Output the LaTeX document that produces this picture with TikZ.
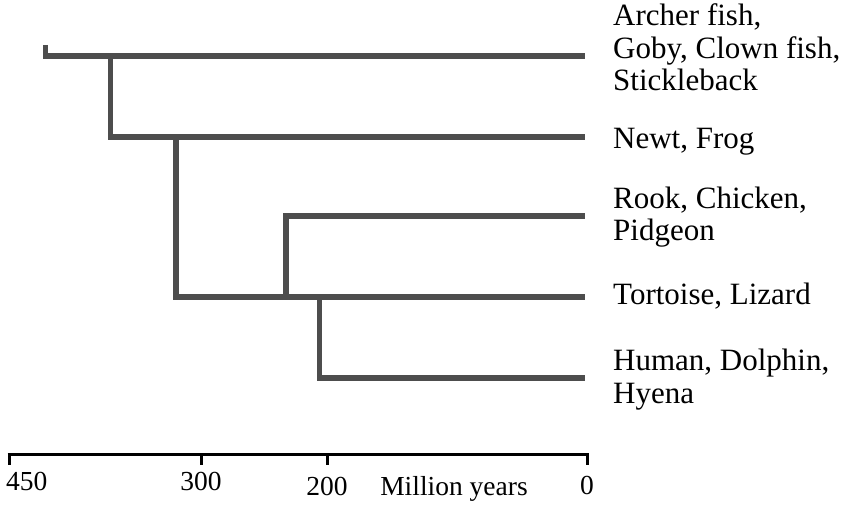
\documentclass[tikz,border=0pt]{standalone}
\usepackage{fontspec}
\setmainfont{Liberation Serif}
\definecolor{treegray}{HTML}{4D4D4D}
\begin{document}
\begin{tikzpicture}[x=1bp,y=-1bp,
  branch/.style={draw=treegray,line width=5.5bp,line cap=butt,line join=miter},
  axisline/.style={draw=black,line width=3bp,line cap=butt},
  taxon/.style={anchor=base west,inner sep=0pt,align=left,
    font=\fontsize{31bp}{32.5bp}\selectfont},
  ticklab/.style={anchor=base,inner sep=0pt,font=\fontsize{27.5bp}{30bp}\selectfont}]
\useasboundingbox (0,0) rectangle (851,507);
% tree coordinates
\coordinate (root) at (45.5,45);
\coordinate (n1) at (110.5,56);
\coordinate (n2) at (176,137);
\coordinate (n3) at (286,297);
\coordinate (n4) at (319.5,297);
\coordinate (lA) at (585,56);
\coordinate (lN) at (585,137);
\coordinate (lR) at (585,216);
\coordinate (lT) at (585,297);
\coordinate (lH) at (585,378);
% branches
\draw[branch] (root) |- (lA);
\draw[branch] (n1) |- (lN);
\draw[branch] (n2) |- (lT);
\draw[branch] (n3) |- (lR);
\draw[branch] (n4) |- (lH);
% labels (base anchor = baseline of the last line)
\node[taxon] (tA) at (613,91) {Archer fish,\\Goby, Clown fish,\\Stickleback};
\node[taxon] (tN) at (613,149) {Newt, Frog};
\node[taxon] (tR) at (613,241) {Rook, Chicken,\\Pidgeon};
\node[taxon] (tT) at (613,305) {Tortoise, Lizard};
\node[taxon] (tH) at (613,403) {Human, Dolphin,\\Hyena};
% axis
\coordinate (a450) at (9,454);
\coordinate (a300) at (201,454);
\coordinate (a200) at (327,454);
\coordinate (a0) at (587,454);
\draw[axisline] ([xshift=-1.5bp]a450) -- ([xshift=1.5bp]a0);
\draw[axisline] (a450) -- ++(0,11);
\draw[axisline] (a300) -- ++(0,11);
\draw[axisline] (a200) -- ++(0,11);
\draw[axisline] (a0) -- ++(0,11);
\node[ticklab,anchor=base west] (l450) at (6,490) {450};
\node[ticklab] (l300) at (201,490) {300};
\node[ticklab] (l200) at (327,495) {200};
\node[ticklab] (lmy) at (454,495) {Million years};
\node[ticklab] (l0) at (587,494) {0};
\end{tikzpicture}
\end{document}
